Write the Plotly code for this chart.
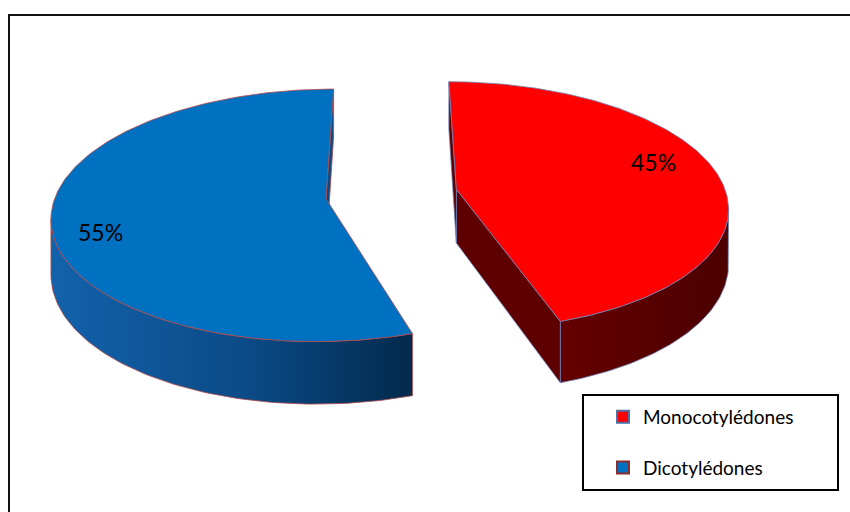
import numpy as np
import plotly.graph_objects as go

# ---------------- data ----------------
categories = ["Monocotylédones", "Dicotylédones"]
values = [45, 55]
top_colors = ["#FF0000", "#0070C0"]
wall_scales = [
    [[0, "#640000"], [1, "#4c0000"]],
    [[0, "#1262ab"], [0.55, "#0b4a86"], [1, "#022a4c"]],
]
face_colors = ["#5e0000", "#0a4a86"]
edge_colors = ["#6f82b8", "#b34a4a"]
legend_edge = ["#4f6fa8", "#8b2d2d"]
label_pos = [(653, 162), (100, 232)]

# ---------------- geometry (style) ----------------
CX, CY = 391.5, 194.0
R = 270.0
TILT = 0.455
FOCAL = 2062.0
H = 54.0
EXPLODE = 66.0
N = 181


def proj(X, Z, Y=0.0):
    s = FOCAL / (FOCAL + Z)
    return CX + X * s, CY - (Z * TILT + Y) * s


def shoelace(xs, ys):
    xs = np.asarray(xs); ys = np.asarray(ys)
    return float(np.sum(xs * np.roll(ys, -1) - np.roll(xs, -1) * ys))


fig = go.Figure()
total = float(sum(values))
cum = 0.0
annotations = []
for i, (cat, v) in enumerate(zip(categories, values)):
    t2 = 90.0 - cum / total * 360.0
    t1 = 90.0 - (cum + v) / total * 360.0
    cum += v
    mid = np.radians((t1 + t2) / 2)
    ox, oz = EXPLODE * np.cos(mid), EXPLODE * np.sin(mid)
    th = np.radians(np.linspace(t1, t2, N))
    X = ox + R * np.cos(th)
    Z = oz + R * np.sin(th)
    tx, ty = proj(X, Z, 0.0)
    bx, by = proj(X, Z, -H)
    ax, ay = proj(ox, oz, 0.0)
    dx, dy = proj(ox, oz, -H)
    line = dict(color=edge_colors[i], width=0.8)

    # outer wall (visible segments)
    vis = [k for k in range(N - 1)
           if shoelace([tx[k], tx[k + 1], bx[k + 1], bx[k]],
                       [ty[k], ty[k + 1], by[k + 1], by[k]]) > 0]
    if vis:
        k0, k1 = vis[0], vis[-1] + 1
        wx = list(tx[k0:k1 + 1]) + list(bx[k0:k1 + 1][::-1])
        wy = list(ty[k0:k1 + 1]) + list(by[k0:k1 + 1][::-1])
        fig.add_trace(go.Scatter(
            x=wx + [wx[0]], y=wy + [wy[0]], mode="lines", fill="toself",
            fillgradient=dict(type="horizontal", colorscale=wall_scales[i]),
            line=line, showlegend=False, hoverinfo="skip"))

    # radial cut faces
    faces = [
        ([ax, tx[0], bx[0], dx], [ay, ty[0], by[0], dy]),
        ([ax, dx, bx[-1], tx[-1]], [ay, dy, by[-1], ty[-1]]),
    ]
    for fx, fy in faces:
        if shoelace(fx, fy) > 0:
            fig.add_trace(go.Scatter(
                x=list(fx) + [fx[0]], y=list(fy) + [fy[0]], mode="lines",
                fill="toself", fillcolor=face_colors[i], line=line,
                showlegend=False, hoverinfo="skip"))

    # top face
    px = [ax] + list(tx) + [ax]
    py = [ay] + list(ty) + [ay]
    fig.add_trace(go.Scatter(
        x=px, y=py, mode="lines", fill="toself", fillcolor=top_colors[i],
        line=line, showlegend=False, hoverinfo="skip"))

    annotations.append(dict(
        x=label_pos[i][0], y=label_pos[i][1], xref="x", yref="y",
        text=f"{round(v / total * 100)}%", showarrow=False,
        font=dict(family="Lato, Liberation Sans, sans-serif", size=23, color="#000000")))

# legend entries
for i, cat in enumerate(categories):
    fig.add_trace(go.Scatter(
        x=[None], y=[None], mode="markers", name=cat, legendgroup=cat,
        marker=dict(symbol="square", size=12, color=top_colors[i],
                    line=dict(color=legend_edge[i], width=2))))

fig.update_layout(
    width=850, height=512,
    margin=dict(l=0, r=0, t=0, b=0),
    paper_bgcolor="white", plot_bgcolor="white",
    xaxis=dict(range=[0, 850], visible=False, fixedrange=True),
    yaxis=dict(range=[512, 0], visible=False, fixedrange=True),
    showlegend=True,
    legend=dict(x=603 / 850, y=1 - 398 / 512, xanchor="left", yanchor="top",
                bgcolor="rgba(0,0,0,0)", borderwidth=0, tracegroupgap=23,
                font=dict(family="Lato, Liberation Sans, sans-serif", size=19, color="#000000")),
    annotations=annotations,
    shapes=[
        dict(type="rect", xref="x", yref="y", x0=9, y0=15, x1=860, y1=530,
             line=dict(color="#111111", width=2), layer="above"),
        dict(type="rect", xref="x", yref="y", x0=583, y0=395, x1=838, y1=490,
             line=dict(color="#000000", width=2), layer="above"),
    ],
)

fig.write_html("out.html", config={"displayModeBar": False})
